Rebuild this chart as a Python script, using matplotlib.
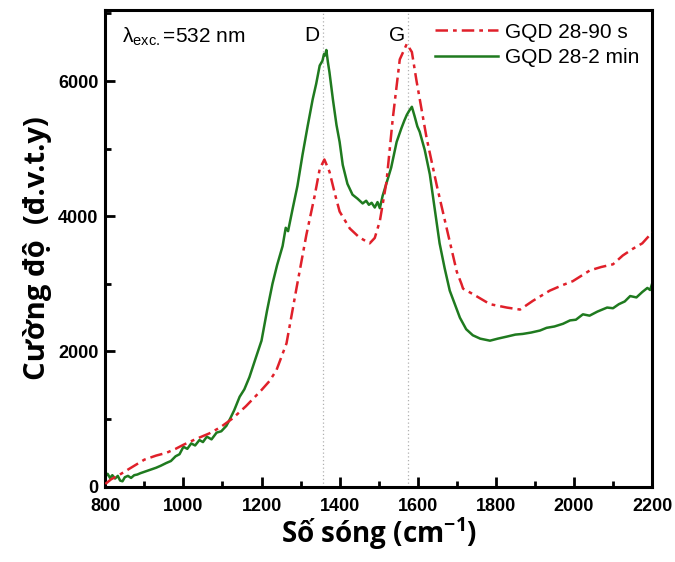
import matplotlib
matplotlib.use("Agg")
import matplotlib.pyplot as plt
from matplotlib.ticker import MultipleLocator

# Raman spectra (wavenumber in cm^-1, intensity a.u.)
wn_90s = [800, 815, 836, 860, 880, 900, 930, 956, 980, 1000,
          1030, 1067, 1095, 1126, 1160, 1200, 1220, 1238, 1264, 1290,
          1315, 1336, 1349, 1361, 1374, 1388, 1400, 1426, 1450, 1477,
          1490, 1503, 1520, 1536, 1554, 1572, 1585, 1597, 1623, 1649,
          1675, 1700, 1712, 1716, 1741, 1785, 1828, 1862, 1895, 1938,
          1970, 1997, 2041, 2070, 2100, 2125, 2151, 2175, 2200]
int_90s = [40, 110, 175, 260, 330, 400, 460, 500, 560, 620,
           700, 790, 880, 1010, 1190, 1430, 1560, 1720, 2120, 2950,
           3730, 4300, 4700, 4840, 4660, 4330, 4070, 3820, 3690, 3600,
           3680, 3930, 4510, 5440, 6320, 6550, 6430, 6000, 5150, 4450,
           3800, 3180, 3000, 2930, 2850, 2700, 2650, 2620, 2750, 2900,
           2980, 3040, 3200, 3250, 3290, 3420, 3520, 3600, 3760]

wn_2min = [800, 806, 812, 818, 825, 832, 838, 844, 850, 858,
           866, 874, 882, 890, 900, 910, 920, 930, 942, 956,
           968, 980, 990, 1000, 1010, 1020, 1030, 1041, 1050, 1060,
           1072, 1085, 1097, 1110, 1120, 1130, 1144, 1156, 1169, 1185,
           1200, 1214, 1228, 1240, 1254, 1262, 1268, 1280, 1292, 1305,
           1318, 1331, 1340, 1349, 1356, 1360, 1363, 1366, 1370, 1374,
           1383, 1392, 1400, 1408, 1420, 1433, 1446, 1459, 1468, 1475,
           1482, 1490, 1497, 1503, 1510, 1520, 1532, 1546, 1558, 1566,
           1572, 1578, 1585, 1592, 1599, 1605, 1618, 1631, 1643, 1656,
           1669, 1682, 1695, 1708, 1724, 1741, 1760, 1785, 1805, 1828,
           1850, 1869, 1890, 1913, 1930, 1950, 1972, 1990, 2005, 2023,
           2040, 2060, 2085, 2100, 2115, 2130, 2144, 2160, 2175, 2188,
           2195, 2200]
int_2min = [150, 190, 130, 170, 120, 160, 90, 80, 140, 160,
            130, 170, 180, 200, 220, 240, 260, 280, 310, 350,
            380, 450, 480, 590, 560, 640, 610, 690, 660, 740,
            700, 800, 820, 900, 1010, 1130, 1330, 1440, 1620, 1900,
            2160, 2600, 3000, 3280, 3560, 3830, 3780, 4120, 4450, 4910,
            5330, 5730, 5960, 6230, 6300, 6400, 6380, 6460, 6280, 6130,
            5720, 5350, 5100, 4760, 4480, 4320, 4260, 4190, 4230, 4170,
            4200, 4130, 4210, 4120, 4300, 4490, 4720, 5100, 5300, 5420,
            5500, 5560, 5620, 5480, 5330, 5250, 4980, 4620, 4130, 3600,
            3230, 2900, 2700, 2500, 2330, 2240, 2190, 2160, 2190, 2220,
            2250, 2260, 2280, 2310, 2350, 2370, 2410, 2460, 2470, 2550,
            2530, 2590, 2650, 2640, 2700, 2740, 2820, 2800, 2880, 2940,
            2910, 3000]

labels = ["GQD 28-90 s", "GQD 28-2 min"]
peak_pos = [1358, 1574]
peak_names = ["D", "G"]

plt.rcParams["font.family"] = ["Liberation Sans", "DejaVu Sans"]

fig = plt.figure(figsize=(6.75, 5.62), dpi=100)
ax = fig.add_axes([0.156, 0.134, 0.810, 0.848])

for xp in peak_pos:
    ax.axvline(xp, color="#b0b0b0", lw=0.9, ls=(0, (1, 2)), zorder=1)

ax.plot(wn_90s, int_90s, color="#e0202a", lw=1.8, ls=(0, (5, 2, 1.5, 2)),
        label=labels[0], zorder=3)
ax.plot(wn_2min, int_2min, color="#1f7a1f", lw=1.8, label=labels[1], zorder=2)

ax.set_xlim(800, 2200)
ax.set_ylim(0, 7050)
ax.xaxis.set_major_locator(MultipleLocator(200))
ax.xaxis.set_minor_locator(MultipleLocator(100))
ax.yaxis.set_major_locator(MultipleLocator(2000))
ax.yaxis.set_minor_locator(MultipleLocator(1000))
ax.tick_params(which="major", direction="in", length=7, width=2,
               labelsize=13, pad=5)
ax.tick_params(axis="x", which="major", pad=8)
ax.tick_params(which="minor", direction="in", length=4, width=2)
for lab in ax.get_xticklabels() + ax.get_yticklabels():
    lab.set_fontweight("bold")
for sp in ax.spines.values():
    sp.set_linewidth(2.2)

ax.set_xlabel("Số sóng (cm$^{\\mathregular{-1}}$)", fontsize=20,
              fontweight="bold", family="Open Sans", labelpad=0)
ax.set_ylabel("Cường độ  (đ.v.t.y)", fontsize=21, fontweight="bold",
              family="Open Sans", labelpad=4)

ax.text(0.03, 0.945, "λ$_{\\mathregular{exc.}}$=532 nm", transform=ax.transAxes,
        fontsize=15, va="center", ha="left")
for xp, name in zip(peak_pos, peak_names):
    ax.text(xp - 28, 6680, name, fontsize=15, ha="center", va="center")

ax.legend(loc="upper right", frameon=False, fontsize=15, handlelength=3.0,
          handletextpad=0.35, borderaxespad=0.2, labelspacing=0.3,
          borderpad=0.4)

fig.savefig("out.png", dpi=100)
